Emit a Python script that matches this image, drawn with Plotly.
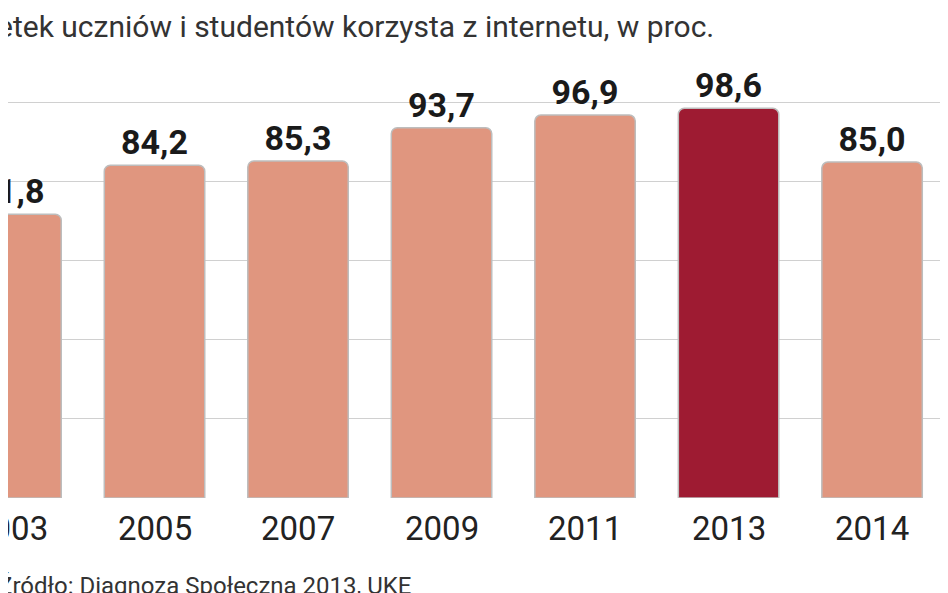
import plotly.graph_objects as go

years = ["2003", "2005", "2007", "2009", "2011", "2013", "2014"]
values = [71.8, 84.2, 85.3, 93.7, 96.9, 98.6, 85.0]
labels = ["71,8", "84,2", "85,3", "93,7", "96,9", "98,6", "85,0"]
colors = ["#9E1B32" if y == "2013" else "#E0967F" for y in years]
FONT = "Liberation Sans Narrow, Roboto"

fig = go.Figure(go.Bar(
    x=list(range(len(years))), y=values, width=0.7,
    marker=dict(color=colors, line=dict(color="#bdbdbd", width=1.5), cornerradius=6),
    text=labels, textposition="outside", cliponaxis=False,
    textfont=dict(family=FONT, size=34, color="#1a1a1a", weight="bold"),
))
fig.update_layout(
    width=948, height=593, margin=dict(l=0, r=0, t=0, b=103),
    paper_bgcolor="white", plot_bgcolor="white", showlegend=False,
    xaxis=dict(range=[-0.021, 6.585], showticklabels=False,
               showgrid=False, zeroline=False, ticks=""),
    yaxis=dict(range=[0, 124], tickvals=[20, 40, 60, 80, 100], showticklabels=False,
               gridcolor="#d0d0d0", gridwidth=1, zeroline=False),
    annotations=[
        dict(text="Odsetek uczniów i studentów korzysta z internetu, w proc.", xref="paper", yref="paper",
             x=708/948, y=1-22/593, xanchor="right", yanchor="middle", showarrow=False,
             font=dict(family=FONT, size=30, color="#333")),
        dict(text="Źródło: Diagnoza Społeczna 2013, UKE", xref="paper", yref="paper",
             x=405/948, y=-(578-490)/490, xanchor="right", yanchor="middle", showarrow=False,
             font=dict(family=FONT, size=24, color="#333")),
    ] + [
        dict(text=y, x=i, xref="x", yref="paper", y=-30/490, xanchor="center", yanchor="middle",
             showarrow=False, font=dict(family=FONT, size=33, color="#222"))
        for i, y in enumerate(years)
    ],
)
fig.write_html("out.html")
